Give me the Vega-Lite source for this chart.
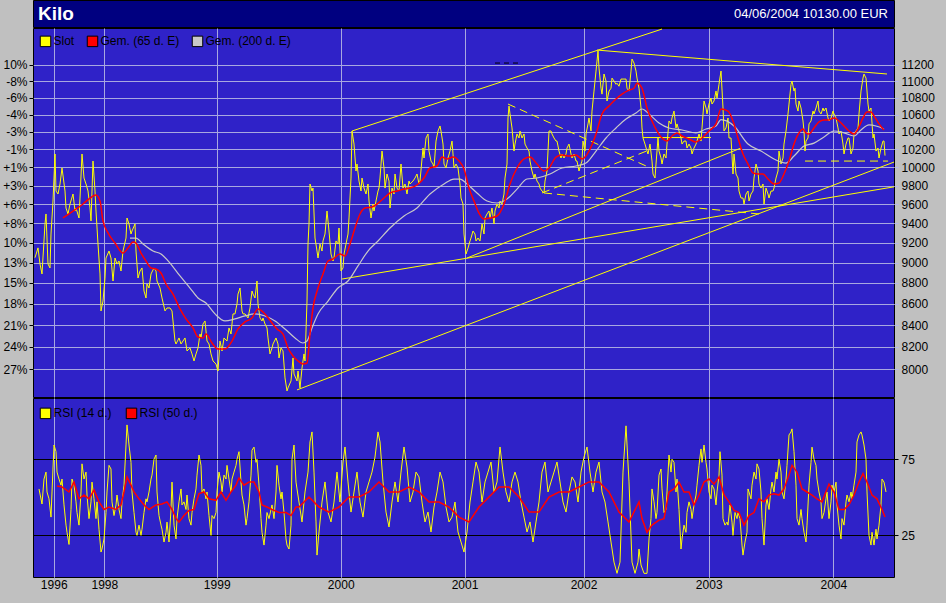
{
  "$schema": "https://vega.github.io/schema/vega-lite/v6.json",
  "background": "#c0c0c0",
  "padding": {"left": 2, "top": -1, "right": 13, "bottom": 13},
  "spacing": -2,
  "config": {
    "font": "Liberation Sans",
    "view": {"stroke": "black", "strokeWidth": 1, "fill": "#2f22c8"},
    "axis": {"labelFont": "Liberation Sans", "labelFontSize": 12, "labelColor": "black", "domain": false, "title": null},
    "legend": {"labelFont": "Liberation Sans", "labelFontSize": 12, "labelColor": "black"}
  },
  "datasets": {
    "price": [
      {"t":2,"p":9049},{"t":5,"p":9148},{"t":7,"p":8986},{"t":9,"p":8888},{"t":12,"p":9393},{"t":13,"p":9497},{"t":15,"p":8986},{"t":17,"p":8947},{"t":18,"p":9289},{"t":20,"p":9634},{"t":22,"p":10148},{"t":23,"p":9741},{"t":25,"p":9709},{"t":27,"p":9817},{"t":29,"p":9992},{"t":32,"p":9741},{"t":33,"p":9560},{"t":35,"p":9497},{"t":37,"p":9602},{"t":40,"p":9709},{"t":42,"p":9528},{"t":43,"p":9560},{"t":46,"p":9455},{"t":47,"p":9666},{"t":49,"p":10148},{"t":51,"p":9882},{"t":53,"p":9817},{"t":55,"p":9741},{"t":57,"p":9560},{"t":58,"p":9424},{"t":60,"p":10069},{"t":62,"p":9741},{"t":63,"p":9528},{"t":65,"p":9187},{"t":67,"p":8888},{"t":68,"p":8532},{"t":70,"p":8626},{"t":72,"p":8848},{"t":73,"p":9046},{"t":76,"p":9116},{"t":78,"p":9046},{"t":80,"p":8819},{"t":82,"p":9046},{"t":84,"p":8986},{"t":86,"p":9016},{"t":88,"p":8917},{"t":90,"p":9116},{"t":93,"p":9248},{"t":94,"p":9455},{"t":96,"p":9393},{"t":98,"p":9289},{"t":99,"p":9320},{"t":102,"p":9393},{"t":103,"p":9116},{"t":105,"p":8848},{"t":107,"p":8917},{"t":109,"p":8947},{"t":111,"p":8722},{"t":113,"p":8655},{"t":114,"p":8790},{"t":116,"p":8751},{"t":118,"p":8888},{"t":121,"p":8947},{"t":123,"p":8917},{"t":124,"p":8819},{"t":127,"p":8751},{"t":129,"p":8655},{"t":132,"p":8532},{"t":134,"p":8560},{"t":137,"p":8560},{"t":139,"p":8532},{"t":142,"p":8253},{"t":143,"p":8226},{"t":146,"p":8281},{"t":148,"p":8226},{"t":150,"p":8253},{"t":152,"p":8281},{"t":154,"p":8163},{"t":157,"p":8190},{"t":159,"p":8136},{"t":161,"p":8073},{"t":163,"p":8136},{"t":165,"p":8190},{"t":167,"p":8317},{"t":168,"p":8281},{"t":170,"p":8410},{"t":172,"p":8438},
      {"t":174,"p":8253},{"t":176,"p":8226},{"t":178,"p":8136},{"t":180,"p":8073},{"t":183,"p":8046},{"t":185,"p":7984},{"t":187,"p":8253},{"t":189,"p":8163},{"t":191,"p":8281},{"t":194,"p":8253},{"t":196,"p":8373},{"t":198,"p":8317},{"t":200,"p":8504},{"t":202,"p":8504},{"t":204,"p":8598},{"t":205,"p":8693},{"t":207,"p":8751},{"t":209,"p":8532},{"t":210,"p":8504},{"t":212,"p":8504},{"t":215,"p":8466},{"t":217,"p":8560},{"t":219,"p":8722},{"t":220,"p":8693},{"t":222,"p":8655},{"t":224,"p":8819},{"t":225,"p":8598},{"t":227,"p":8466},{"t":229,"p":8438},{"t":230,"p":8466},{"t":232,"p":8410},{"t":234,"p":8373},{"t":235,"p":8281},{"t":237,"p":8136},{"t":239,"p":8190},{"t":240,"p":8226},{"t":243,"p":8281},{"t":245,"p":8226},{"t":246,"p":8100},{"t":248,"p":8190},{"t":250,"p":8163},{"t":252,"p":7923},{"t":254,"p":7810},{"t":255,"p":7836},{"t":258,"p":7897},{"t":260,"p":8100},{"t":261,"p":7958},{"t":264,"p":7897},{"t":265,"p":7984},{"t":267,"p":7836},{"t":269,"p":8010},{"t":271,"p":8136},{"t":272,"p":8073},{"t":274,"p":8626},{"t":275,"p":9187},{"t":276,"p":9393},{"t":277,"p":9817},{"t":279,"p":9741},{"t":280,"p":9773},{"t":282,"p":9248},{"t":284,"p":9116},{"t":285,"p":9046},{"t":287,"p":9187},{"t":289,"p":9116},{"t":290,"p":9218},{"t":292,"p":9289},{"t":294,"p":9528},{"t":296,"p":9320},{"t":298,"p":9086},{"t":300,"p":9016},{"t":301,"p":9046},{"t":303,"p":9218},{"t":305,"p":9187},{"t":306,"p":9351},{"t":308,"p":8917},{"t":310,"p":8947},{"t":311,"p":9086},{"t":313,"p":9187},{"t":315,"p":9289},{"t":316,"p":9455},{"t":318,"p":9882},{"t":319,"p":10409},{"t":321,"p":10260},{"t":323,"p":9959},{"t":324,"p":10036},{"t":326,"p":9849},{"t":328,"p":9741},{"t":329,"p":9882},{"t":331,"p":9773},{"t":333,"p":9709},{"t":335,"p":9817},{"t":336,"p":9634},{"t":338,"p":9455},{"t":340,"p":9602},{"t":341,"p":9528},{"t":343,"p":9634},{"t":345,"p":9741},
      {"t":346,"p":9773},{"t":347,"p":9882},{"t":349,"p":10181},{"t":351,"p":9992},{"t":352,"p":9773},{"t":354,"p":9926},{"t":356,"p":9849},{"t":357,"p":9560},{"t":359,"p":9773},{"t":361,"p":9709},{"t":362,"p":9926},{"t":364,"p":9773},{"t":366,"p":9741},{"t":368,"p":10036},{"t":370,"p":9773},{"t":372,"p":9817},{"t":374,"p":9709},{"t":376,"p":9849},{"t":377,"p":9817},{"t":380,"p":9849},{"t":382,"p":9882},{"t":384,"p":9926},{"t":386,"p":9817},{"t":387,"p":9849},{"t":390,"p":10215},{"t":391,"p":10103},{"t":393,"p":10329},{"t":395,"p":10375},{"t":396,"p":10181},{"t":398,"p":10069},{"t":400,"p":10036},{"t":401,"p":9992},{"t":403,"p":10294},{"t":405,"p":10409},{"t":407,"p":10467},{"t":408,"p":10409},{"t":410,"p":10260},{"t":411,"p":10036},{"t":413,"p":9992},{"t":415,"p":10103},{"t":417,"p":10181},{"t":419,"p":10294},{"t":420,"p":10148},{"t":421,"p":9992},{"t":423,"p":10036},{"t":425,"p":9992},{"t":427,"p":9817},{"t":428,"p":9666},{"t":430,"p":9602},{"t":431,"p":9289},{"t":432,"p":9187},{"t":433,"p":9086},{"t":435,"p":9146},{"t":437,"p":9218},{"t":438,"p":9248},{"t":440,"p":9320},{"t":442,"p":9289},{"t":443,"p":9218},{"t":445,"p":9248},{"t":447,"p":9218},{"t":449,"p":9393},{"t":451,"p":9289},{"t":452,"p":9455},{"t":454,"p":9497},{"t":456,"p":9528},{"t":457,"p":9455},{"t":459,"p":9560},{"t":461,"p":9393},{"t":462,"p":9528},{"t":464,"p":9602},{"t":466,"p":9560},{"t":467,"p":9634},{"t":469,"p":9602},{"t":471,"p":9709},{"t":472,"p":9882},{"t":474,"p":10036},{"t":475,"p":10560},{"t":476,"p":10700},{"t":477,"p":10607},{"t":479,"p":10444},{"t":481,"p":10181},{"t":482,"p":10260},{"t":484,"p":10375},{"t":486,"p":10329},{"t":487,"p":10409},{"t":489,"p":10329},{"t":491,"p":10375},{"t":492,"p":10260},{"t":494,"p":10215},{"t":496,"p":10181},{"t":497,"p":10069},{"t":499,"p":9959},{"t":501,"p":9882},{"t":502,"p":9926},{"t":504,"p":9849},{"t":506,"p":9817},{"t":507,"p":9773},{"t":509,"p":9741},{"t":511,"p":9720},{"t":512,"p":9849},{"t":514,"p":9959},{"t":516,"p":10409},
      {"t":518,"p":10409},{"t":519,"p":10375},{"t":521,"p":10329},{"t":523,"p":10294},{"t":524,"p":10294},{"t":526,"p":10181},{"t":528,"p":10103},{"t":529,"p":10148},{"t":531,"p":10103},{"t":533,"p":10148},{"t":534,"p":10215},{"t":536,"p":10260},{"t":538,"p":10148},{"t":539,"p":10103},{"t":541,"p":10148},{"t":543,"p":10069},{"t":544,"p":10069},{"t":546,"p":9959},{"t":548,"p":10036},{"t":549,"p":10069},{"t":550,"p":10294},{"t":552,"p":10181},{"t":553,"p":10375},{"t":555,"p":10491},{"t":556,"p":10560},{"t":558,"p":10409},{"t":559,"p":10641},{"t":561,"p":10879},{"t":563,"p":11122},{"t":564,"p":11246},{"t":565,"p":11371},{"t":566,"p":11159},{"t":568,"p":10913},{"t":569,"p":10842},{"t":571,"p":11086},{"t":573,"p":11000},{"t":574,"p":10760},{"t":576,"p":10879},{"t":578,"p":10913},{"t":579,"p":11036},{"t":581,"p":11000},{"t":583,"p":10961},{"t":584,"p":10973},{"t":586,"p":10937},{"t":588,"p":11024},{"t":589,"p":11024},{"t":591,"p":11024},{"t":593,"p":11024},{"t":594,"p":10913},{"t":596,"p":10879},{"t":598,"p":11122},{"t":599,"p":11271},{"t":601,"p":11221},{"t":603,"p":11122},{"t":604,"p":11036},{"t":606,"p":10913},{"t":608,"p":10677},{"t":609,"p":10444},{"t":610,"p":10329},{"t":612,"p":10260},{"t":614,"p":10181},{"t":615,"p":10148},{"t":617,"p":10260},{"t":619,"p":10069},{"t":620,"p":9926},{"t":622,"p":9882},{"t":623,"p":10036},{"t":625,"p":10329},{"t":626,"p":10181},{"t":628,"p":10103},{"t":629,"p":10036},{"t":631,"p":10148},{"t":633,"p":10103},{"t":634,"p":10260},{"t":636,"p":10525},{"t":638,"p":10491},{"t":639,"p":10560},{"t":641,"p":10641},{"t":643,"p":10444},{"t":644,"p":10491},{"t":646,"p":10409},{"t":648,"p":10329},{"t":649,"p":10260},{"t":651,"p":10294},{"t":653,"p":10294},{"t":654,"p":10215},{"t":656,"p":10260},{"t":658,"p":10215},{"t":659,"p":10148},{"t":661,"p":10215},{"t":663,"p":10260},{"t":664,"p":10294},{"t":666,"p":10375},{"t":668,"p":10294},{"t":669,"p":10444},{"t":671,"p":10760},{"t":673,"p":10677},{"t":674,"p":10607},{"t":676,"p":10724},{"t":678,"p":10794},{"t":679,"p":10724},{"t":681,"p":10760},{"t":683,"p":10879},{"t":684,"p":10794},{"t":686,"p":10961},{"t":688,"p":11122},
      {"t":690,"p":10677},{"t":691,"p":10409},{"t":693,"p":10444},{"t":695,"p":10560},{"t":696,"p":10329},{"t":698,"p":10329},{"t":700,"p":9926},{"t":701,"p":10148},{"t":703,"p":9926},{"t":705,"p":9882},{"t":706,"p":9741},{"t":708,"p":9666},{"t":710,"p":9666},{"t":711,"p":9602},{"t":713,"p":9709},{"t":715,"p":9741},{"t":716,"p":9634},{"t":718,"p":9709},{"t":720,"p":9741},{"t":721,"p":9882},{"t":723,"p":10036},{"t":725,"p":9959},{"t":726,"p":9817},{"t":728,"p":9773},{"t":730,"p":9817},{"t":731,"p":9602},{"t":733,"p":9773},{"t":735,"p":9709},{"t":736,"p":9666},{"t":738,"p":9741},{"t":740,"p":9741},{"t":741,"p":9773},{"t":743,"p":9882},{"t":745,"p":9959},{"t":746,"p":10181},{"t":748,"p":10036},{"t":750,"p":10103},{"t":751,"p":10260},{"t":753,"p":10409},{"t":755,"p":10607},{"t":756,"p":10724},{"t":758,"p":10961},{"t":759,"p":11000},{"t":761,"p":10879},{"t":762,"p":10913},{"t":763,"p":10724},{"t":765,"p":10641},{"t":766,"p":10760},{"t":768,"p":10677},{"t":770,"p":10525},{"t":771,"p":10409},{"t":772,"p":10181},{"t":773,"p":10294},{"t":775,"p":10329},{"t":776,"p":10491},{"t":778,"p":10525},{"t":780,"p":10641},{"t":781,"p":10607},{"t":783,"p":10677},{"t":785,"p":10760},{"t":786,"p":10641},{"t":788,"p":10607},{"t":790,"p":10677},{"t":791,"p":10641},{"t":793,"p":10677},{"t":795,"p":10560},{"t":796,"p":10525},{"t":798,"p":10560},{"t":800,"p":10641},{"t":801,"p":10607},{"t":803,"p":10560},{"t":805,"p":10444},{"t":806,"p":10375},{"t":808,"p":10409},{"t":810,"p":10260},{"t":811,"p":10148},{"t":813,"p":10260},{"t":815,"p":10329},{"t":816,"p":10329},{"t":818,"p":10148},{"t":820,"p":10215},{"t":821,"p":10375},{"t":823,"p":10409},{"t":825,"p":10444},{"t":826,"p":10607},{"t":828,"p":10879},{"t":830,"p":11036},{"t":831,"p":11086},{"t":833,"p":11036},{"t":835,"p":10724},{"t":836,"p":10641},{"t":838,"p":10677},{"t":840,"p":10329},{"t":841,"p":10375},{"t":843,"p":10181},{"t":845,"p":10215},{"t":846,"p":10103},{"t":848,"p":10215},{"t":850,"p":10294},{"t":851,"p":10294},{"t":852,"p":10130}
    ],
    "ma65": [
      {"t":30,"p":9455},{"t":37,"p":9507},{"t":43,"p":9549},{"t":50,"p":9602},{"t":57,"p":9666},{"t":63,"p":9698},{"t":67,"p":9634},{"t":70,"p":9424},{"t":75,"p":9300},{"t":82,"p":9197},{"t":90,"p":9096},{"t":95,"p":9146},{"t":100,"p":9207},{"t":103,"p":9197},{"t":108,"p":9096},{"t":113,"p":9016},{"t":118,"p":8947},{"t":123,"p":8937},{"t":128,"p":8897},{"t":133,"p":8790},{"t":140,"p":8693},{"t":147,"p":8551},{"t":153,"p":8457},{"t":160,"p":8373},{"t":165,"p":8290},{"t":170,"p":8281},{"t":173,"p":8317},{"t":179,"p":8235},{"t":185,"p":8181},{"t":192,"p":8181},{"t":199,"p":8253},{"t":205,"p":8364},{"t":212,"p":8429},{"t":219,"p":8466},{"t":225,"p":8551},{"t":232,"p":8504},{"t":239,"p":8419},{"t":244,"p":8364},{"t":250,"p":8317},{"t":255,"p":8190},{"t":260,"p":8118},{"t":265,"p":8073},{"t":270,"p":8046},{"t":274,"p":8055},{"t":277,"p":8317},{"t":280,"p":8560},{"t":285,"p":8751},{"t":290,"p":8888},{"t":295,"p":9016},{"t":300,"p":9036},{"t":307,"p":9086},{"t":312,"p":9066},{"t":317,"p":9187},{"t":322,"p":9351},{"t":327,"p":9497},{"t":332,"p":9560},{"t":339,"p":9570},{"t":344,"p":9602},{"t":351,"p":9666},{"t":357,"p":9720},{"t":364,"p":9741},{"t":371,"p":9762},{"t":377,"p":9773},{"t":384,"p":9806},{"t":391,"p":9882},{"t":397,"p":9992},{"t":404,"p":10014},{"t":409,"p":10114},{"t":414,"p":10092},{"t":420,"p":10114},{"t":426,"p":10069},{"t":431,"p":9981},{"t":436,"p":9773},{"t":441,"p":9634},{"t":446,"p":9507},{"t":451,"p":9444},{"t":457,"p":9455},{"t":464,"p":9476},{"t":471,"p":9602},{"t":477,"p":9817},{"t":484,"p":9992},{"t":491,"p":10092},{"t":497,"p":10114},{"t":504,"p":10036},{"t":511,"p":9959},{"t":516,"p":9992},{"t":523,"p":10114},{"t":529,"p":10137},{"t":536,"p":10125},{"t":543,"p":10137},{"t":549,"p":10092},{"t":556,"p":10181},{"t":563,"p":10375},{"t":569,"p":10607},{"t":576,"p":10700},{"t":583,"p":10783},{"t":589,"p":10842},{"t":596,"p":10890},{"t":601,"p":10913},{"t":604,"p":10973},{"t":609,"p":10913},{"t":614,"p":10677},{"t":619,"p":10525},{"t":624,"p":10409},{"t":629,"p":10329},{"t":634,"p":10294},{"t":639,"p":10352},{"t":644,"p":10387},{"t":649,"p":10352},{"t":656,"p":10317},{"t":663,"p":10283},{"t":669,"p":10329},{"t":676,"p":10409},{"t":683,"p":10491},{"t":688,"p":10665},{"t":695,"p":10641},{"t":700,"p":10525},{"t":705,"p":10329},{"t":710,"p":10148},{"t":715,"p":10036},{"t":720,"p":9937},{"t":725,"p":9926},{"t":730,"p":9926},{"t":735,"p":9871},{"t":741,"p":9817},{"t":746,"p":9828},{"t":751,"p":9926},{"t":756,"p":10069},{"t":761,"p":10260},{"t":766,"p":10387},{"t":770,"p":10432},{"t":773,"p":10387},{"t":776,"p":10375},{"t":781,"p":10444},{"t":786,"p":10514},{"t":791,"p":10537},{"t":796,"p":10537},{"t":801,"p":10560},{"t":806,"p":10525},{"t":811,"p":10467},{"t":816,"p":10409},{"t":821,"p":10375},{"t":825,"p":10432},{"t":830,"p":10560},{"t":834,"p":10630},{"t":838,"p":10630},{"t":841,"p":10584},{"t":846,"p":10491},{"t":851,"p":10421}
    ],
    "ma200": [
      {"t":97,"p":9248},{"t":103,"p":9248},{"t":110,"p":9187},{"t":120,"p":9116},{"t":128,"p":9086},{"t":137,"p":8996},{"t":147,"p":8868},{"t":157,"p":8751},{"t":165,"p":8655},{"t":173,"p":8607},{"t":182,"p":8504},{"t":192,"p":8438},{"t":202,"p":8457},{"t":212,"p":8485},{"t":222,"p":8504},{"t":232,"p":8485},{"t":242,"p":8438},{"t":252,"p":8364},{"t":262,"p":8281},{"t":270,"p":8235},{"t":274,"p":8253},{"t":279,"p":8373},{"t":285,"p":8504},{"t":295,"p":8626},{"t":305,"p":8751},{"t":315,"p":8819},{"t":325,"p":8967},{"t":335,"p":9116},{"t":345,"p":9218},{"t":357,"p":9351},{"t":371,"p":9476},{"t":384,"p":9560},{"t":397,"p":9709},{"t":411,"p":9817},{"t":421,"p":9871},{"t":427,"p":9871},{"t":434,"p":9817},{"t":444,"p":9720},{"t":454,"p":9634},{"t":464,"p":9613},{"t":474,"p":9655},{"t":484,"p":9762},{"t":494,"p":9871},{"t":504,"p":9882},{"t":517,"p":9926},{"t":529,"p":9992},{"t":543,"p":10014},{"t":553,"p":10047},{"t":563,"p":10181},{"t":573,"p":10329},{"t":583,"p":10444},{"t":593,"p":10549},{"t":603,"p":10618},{"t":609,"p":10665},{"t":616,"p":10607},{"t":626,"p":10502},{"t":636,"p":10444},{"t":649,"p":10421},{"t":663,"p":10387},{"t":673,"p":10432},{"t":683,"p":10467},{"t":688,"p":10540},{"t":701,"p":10467},{"t":715,"p":10260},{"t":728,"p":10181},{"t":741,"p":10092},{"t":753,"p":10047},{"t":761,"p":10125},{"t":771,"p":10237},{"t":781,"p":10271},{"t":791,"p":10341},{"t":801,"p":10409},{"t":811,"p":10387},{"t":821,"p":10352},{"t":828,"p":10421},{"t":836,"p":10479},{"t":843,"p":10467},{"t":851,"p":10432}
    ],
    "trends": [
      {"t":309,"p":8838,"t2":861,"p2":9786},
      {"t":264,"p":7819,"t2":861,"p2":10058},
      {"t":434,"p":9046,"t2":708,"p2":10215},
      {"t":319,"p":10409,"t2":629,"p2":11650},
      {"t":564,"p":11383,"t2":854,"p2":11086},
      {"t":610,"p":10334,"t2":678,"p2":10334}
    ],
    "dtrends": [
      {"t":475,"p":10724,"t2":616,"p2":10000},
      {"t":509,"p":9720,"t2":616,"p2":10192},
      {"t":511,"p":9720,"t2":726,"p2":9497},
      {"t":772,"p":10069,"t2":855,"p2":10069}
    ],
    "btrends": [
      {"t":462,"p":11221,"t2":489,"p2":11221}
    ],
    "rsi14": [
      {"t":6,"r":55.5},{"t":9,"r":45.6},{"t":11,"r":62},{"t":13,"r":66.6},{"t":14,"r":53.5},{"t":16,"r":49},{"t":18,"r":37},{"t":19,"r":53.5},{"t":21,"r":84.4},{"t":23,"r":80},{"t":24,"r":66.6},{"t":26,"r":62},{"t":28,"r":58},{"t":29,"r":62},{"t":31,"r":45},{"t":33,"r":31.7},{"t":34,"r":27},{"t":36,"r":19},{"t":38,"r":42},{"t":39,"r":62},{"t":41,"r":58},{"t":43,"r":47},{"t":44,"r":40},{"t":46,"r":31.7},{"t":48,"r":53.5},{"t":49,"r":72},{"t":51,"r":62},{"t":53,"r":66.6},{"t":54,"r":51.5},{"t":56,"r":36},{"t":58,"r":47},{"t":59,"r":60},{"t":61,"r":49},{"t":63,"r":36},{"t":64,"r":47},{"t":66,"r":29},{"t":68,"r":14},{"t":69,"r":16},{"t":71,"r":22.6},{"t":73,"r":40},{"t":74,"r":53.5},{"t":76,"r":71},{"t":78,"r":68.6},{"t":79,"r":47},{"t":81,"r":38},{"t":83,"r":45},{"t":84,"r":51.5},{"t":86,"r":42},{"t":88,"r":36},{"t":89,"r":47},{"t":91,"r":58},{"t":93,"r":84.4},{"t":94,"r":97.6},{"t":96,"r":84.4},{"t":98,"r":73},{"t":99,"r":53.5},{"t":101,"r":40},{"t":103,"r":27},{"t":104,"r":25},{"t":106,"r":31.7},{"t":108,"r":25},{"t":109,"r":29},{"t":111,"r":40},{"t":113,"r":49},{"t":114,"r":47},{"t":116,"r":53.5},{"t":118,"r":62},{"t":119,"r":64.6},{"t":121,"r":75},{"t":123,"r":77.8},{"t":124,"r":53.5},{"t":126,"r":38},{"t":128,"r":31.7},{"t":129,"r":29},{"t":131,"r":20.6},{"t":133,"r":27},{"t":134,"r":33.7},{"t":136,"r":20.6},{"t":138,"r":42},{"t":139,"r":60},{"t":141,"r":31.7},{"t":143,"r":22.6},{"t":144,"r":36},{"t":146,"r":47},{"t":148,"r":55.5},{"t":149,"r":45},{"t":151,"r":47},{"t":153,"r":42},{"t":154,"r":51.5},{"t":156,"r":36},{"t":158,"r":31.7},{"t":159,"r":40},{"t":161,"r":49},{"t":163,"r":55.5},{"t":164,"r":64.6},{"t":166,"r":77.8},{"t":168,"r":71},{"t":169,"r":53.5},{"t":171,"r":55.5},{"t":173,"r":49},{"t":174,"r":53.5},{"t":176,"r":38},{"t":178,"r":25},{"t":179,"r":38},{"t":181,"r":36},{"t":183,"r":40},{"t":184,"r":53.5},{"t":186,"r":66.6},{"t":188,"r":60},{"t":189,"r":53.5},{"t":191,"r":64.6},{"t":193,"r":62},{"t":194,"r":71},{"t":196,"r":62},{"t":198,"r":53.5},{"t":199,"r":62},{"t":201,"r":66.6},{"t":203,"r":71},{"t":204,"r":75},{"t":206,"r":80},{"t":208,"r":60},{"t":209,"r":51.5},{"t":211,"r":45},{"t":213,"r":31.7},{"t":214,"r":36},{"t":216,"r":47},{"t":218,"r":64.6},{"t":219,"r":81},{"t":221,"r":83},{"t":223,"r":73},{"t":224,"r":75},{"t":226,"r":58},{"t":228,"r":36},{"t":229,"r":27},{"t":231,"r":18.6},{"t":233,"r":31.7},{"t":234,"r":40},{"t":236,"r":36},{"t":238,"r":42},{"t":239,"r":45},{"t":241,"r":36},{"t":243,"r":53.5},{"t":244,"r":71},{"t":246,"r":58},{"t":248,"r":49},{"t":249,"r":53.5},{"t":251,"r":40},{"t":253,"r":22.6},{"t":254,"r":18.6},{"t":256,"r":16},{"t":258,"r":31.7},{"t":259,"r":75},{"t":261,"r":84.4},{"t":263,"r":60},{"t":264,"r":55.5},
      {"t":266,"r":46.9},{"t":269,"r":33.8},{"t":272,"r":53.5},{"t":275,"r":66.6},{"t":277,"r":86.4},{"t":279,"r":93},{"t":281,"r":66.6},{"t":283,"r":33.8},{"t":284,"r":12},{"t":286,"r":27.2},{"t":289,"r":46.9},{"t":292,"r":60.1},{"t":295,"r":40.3},{"t":298,"r":33.8},{"t":301,"r":46.9},{"t":304,"r":66.6},{"t":307,"r":46.9},{"t":310,"r":73.2},{"t":312,"r":83.1},{"t":315,"r":60.1},{"t":318,"r":40.3},{"t":321,"r":53.5},{"t":324,"r":66.6},{"t":327,"r":46.9},{"t":330,"r":37},{"t":333,"r":53.5},{"t":336,"r":60.1},{"t":339,"r":66.6},{"t":342,"r":76.5},{"t":345,"r":93},{"t":347,"r":86.4},{"t":350,"r":60.1},{"t":353,"r":40.3},{"t":356,"r":30.5},{"t":359,"r":46.9},{"t":362,"r":60.1},{"t":365,"r":46.9},{"t":368,"r":66.6},{"t":371,"r":83.1},{"t":374,"r":69.9},{"t":377,"r":46.9},{"t":380,"r":53.5},{"t":383,"r":66.6},{"t":386,"r":63.4},{"t":389,"r":46.9},{"t":392,"r":33.8},{"t":395,"r":40.3},{"t":398,"r":27.2},{"t":401,"r":43.6},{"t":404,"r":53.5},{"t":407,"r":66.6},{"t":410,"r":60.1},{"t":413,"r":43.6},{"t":416,"r":33.8},{"t":419,"r":37},{"t":422,"r":46.9},{"t":425,"r":27.2},{"t":428,"r":20.6},{"t":431,"r":14},{"t":434,"r":27.2},{"t":437,"r":46.9},{"t":440,"r":60.1},{"t":443,"r":73.2},{"t":446,"r":66.6},{"t":449,"r":46.9},{"t":452,"r":60.1},{"t":455,"r":66.6},{"t":458,"r":73.2},{"t":461,"r":53.5},{"t":464,"r":60.1},{"t":467,"r":83.1},{"t":470,"r":66.6},{"t":473,"r":53.5},{"t":476,"r":46.9},{"t":479,"r":60.1},{"t":482,"r":66.6},{"t":485,"r":60.1},{"t":488,"r":46.9},{"t":491,"r":37},{"t":494,"r":27.2},{"t":497,"r":33.8},{"t":500,"r":20.6},{"t":503,"r":33.8},{"t":506,"r":46.9},{"t":509,"r":66.6},{"t":512,"r":73.2},{"t":515,"r":53.5},{"t":518,"r":60.1},{"t":521,"r":66.6},{"t":524,"r":73.2},{"t":527,"r":60.1},{"t":530,"r":46.9},{"t":533,"r":40.3},{"t":536,"r":53.5},{"t":539,"r":63.4},{"t":542,"r":60.1},{"t":545,"r":46.9},{"t":548,"r":66.6},{"t":551,"r":76.5},{"t":554,"r":83.1},{"t":557,"r":66.6},{"t":560,"r":53.5},{"t":563,"r":66.6},{"t":566,"r":73.2},{"t":569,"r":53.5},{"t":572,"r":46.9},{"t":575,"r":33.8},{"t":578,"r":20.6},{"t":581,"r":7.4},{"t":584,"r":0},{"t":587,"r":7.4},{"t":590,"r":66.6},{"t":593,"r":97},{"t":596,"r":60.1},{"t":599,"r":7.4},{"t":602,"r":0},{"t":605,"r":7.4},
      {"t":606,"r":16},{"t":608,"r":5.5},{"t":611,"r":0},{"t":614,"r":0},{"t":616,"r":22.6},{"t":618,"r":36},{"t":619,"r":55.5},{"t":621,"r":47},{"t":623,"r":36},{"t":624,"r":40},{"t":626,"r":64.6},{"t":628,"r":68.6},{"t":629,"r":55.5},{"t":631,"r":40},{"t":633,"r":42},{"t":634,"r":53.5},{"t":636,"r":77.8},{"t":638,"r":66.6},{"t":639,"r":75},{"t":641,"r":73},{"t":643,"r":53.5},{"t":644,"r":62},{"t":646,"r":42},{"t":648,"r":16},{"t":649,"r":22.6},{"t":651,"r":31.7},{"t":653,"r":27},{"t":654,"r":40},{"t":656,"r":47},{"t":658,"r":42},{"t":659,"r":36},{"t":661,"r":45},{"t":663,"r":51.5},{"t":664,"r":58},{"t":666,"r":71},{"t":668,"r":81.8},{"t":669,"r":73},{"t":671,"r":84.4},{"t":673,"r":73},{"t":674,"r":68.6},{"t":676,"r":53.5},{"t":678,"r":49},{"t":679,"r":58},{"t":681,"r":55.5},{"t":683,"r":45},{"t":684,"r":53.5},{"t":686,"r":64.6},{"t":687,"r":80},{"t":689,"r":64.6},{"t":690,"r":36},{"t":692,"r":31.7},{"t":694,"r":33.7},{"t":695,"r":31.7},{"t":697,"r":45},{"t":699,"r":33.7},{"t":700,"r":25},{"t":702,"r":40},{"t":704,"r":36},{"t":705,"r":40},{"t":707,"r":36},{"t":709,"r":18.6},{"t":710,"r":12},{"t":712,"r":20.6},{"t":714,"r":27},{"t":715,"r":55.5},{"t":716,"r":53.5},{"t":718,"r":49},{"t":719,"r":58},{"t":721,"r":66.6},{"t":723,"r":62},{"t":724,"r":72},{"t":726,"r":68.6},{"t":728,"r":53.5},{"t":729,"r":36},{"t":731,"r":18.6},{"t":733,"r":45},{"t":734,"r":49},{"t":736,"r":42},{"t":738,"r":55.5},{"t":739,"r":60},{"t":741,"r":53.5},{"t":743,"r":66.6},{"t":744,"r":62},{"t":746,"r":75},{"t":748,"r":66.6},{"t":749,"r":53.5},{"t":751,"r":49},{"t":753,"r":62},{"t":754,"r":71},{"t":756,"r":91},{"t":758,"r":93},{"t":759,"r":95},{"t":761,"r":80},{"t":763,"r":58},{"t":764,"r":36},{"t":766,"r":31.7},{"t":768,"r":42},{"t":769,"r":36},{"t":771,"r":27},{"t":773,"r":20.6},{"t":774,"r":31.7},{"t":776,"r":58},{"t":778,"r":73},{"t":779,"r":83},{"t":781,"r":75},{"t":783,"r":71},{"t":784,"r":62},{"t":786,"r":53.5},{"t":788,"r":47},{"t":789,"r":36},{"t":791,"r":40},{"t":793,"r":49},{"t":794,"r":53.5},{"t":796,"r":36},{"t":798,"r":47},{"t":799,"r":58},{"t":801,"r":53.5},{"t":803,"r":60},{"t":804,"r":45},{"t":806,"r":31.7},{"t":808,"r":22.6},{"t":809,"r":36},{"t":811,"r":31.7},{"t":813,"r":47},{"t":814,"r":51.5},{"t":816,"r":47},{"t":818,"r":53.5},{"t":819,"r":49},{"t":821,"r":58},{"t":823,"r":66.6},{"t":824,"r":86.4},{"t":826,"r":91},{"t":828,"r":93},{"t":829,"r":91},{"t":831,"r":84.4},{"t":833,"r":75},{"t":834,"r":53.5},{"t":836,"r":25},{"t":838,"r":18.6},{"t":839,"r":27},{"t":841,"r":18.6},{"t":843,"r":29},{"t":844,"r":22.6},{"t":846,"r":31.7},{"t":848,"r":45},{"t":849,"r":62},{"t":851,"r":60},{"t":853,"r":53.5}
    ],
    "rsi50": [
      {"t":24,"r":57.4},{"t":29,"r":56.8},{"t":36,"r":53.5},{"t":41,"r":60},{"t":46,"r":49},{"t":51,"r":51.5},{"t":56,"r":49},{"t":61,"r":54.8},{"t":66,"r":47},{"t":71,"r":42},{"t":76,"r":43.6},{"t":83,"r":42},{"t":88,"r":45},{"t":91,"r":53.5},{"t":94,"r":63.4},{"t":98,"r":58},{"t":101,"r":53.5},{"t":106,"r":49},{"t":111,"r":45},{"t":116,"r":42},{"t":123,"r":45},{"t":129,"r":45.6},{"t":134,"r":47},{"t":139,"r":42},{"t":143,"r":36},{"t":146,"r":33.7},{"t":151,"r":38},{"t":156,"r":41.4},{"t":161,"r":42},{"t":166,"r":52.4},{"t":171,"r":53.5},{"t":176,"r":49},{"t":183,"r":48},{"t":188,"r":53.5},{"t":193,"r":48},{"t":198,"r":53.5},{"t":203,"r":58},{"t":206,"r":62.7},{"t":211,"r":58},{"t":216,"r":60},{"t":221,"r":60},{"t":226,"r":53.5},{"t":229,"r":45},{"t":234,"r":43.6},{"t":239,"r":42},{"t":246,"r":40},{"t":253,"r":40},{"t":258,"r":38},{"t":263,"r":43.6},
      {"t":266,"r":43.6},{"t":276,"r":50.2},{"t":286,"r":43.6},{"t":296,"r":40.3},{"t":306,"r":43.6},{"t":316,"r":50.2},{"t":326,"r":50.2},{"t":336,"r":53.5},{"t":346,"r":60.1},{"t":356,"r":53.5},{"t":366,"r":53.5},{"t":376,"r":56.8},{"t":386,"r":53.5},{"t":396,"r":46.9},{"t":406,"r":46.9},{"t":416,"r":43.6},{"t":426,"r":37},{"t":436,"r":33.8},{"t":446,"r":43.6},{"t":456,"r":50.2},{"t":466,"r":56.8},{"t":476,"r":56.8},{"t":486,"r":50.2},{"t":496,"r":40.3},{"t":506,"r":40.3},{"t":516,"r":50.2},{"t":526,"r":53.5},{"t":536,"r":53.5},{"t":546,"r":56.8},{"t":556,"r":60.1},{"t":566,"r":60.1},{"t":576,"r":53.5},{"t":586,"r":40.3},{"t":596,"r":33.8},
      {"t":606,"r":47},{"t":609,"r":36},{"t":614,"r":27},{"t":619,"r":31.7},{"t":626,"r":35},{"t":631,"r":36},{"t":636,"r":53.5},{"t":641,"r":55.5},{"t":646,"r":60},{"t":651,"r":53.5},{"t":656,"r":53.5},{"t":661,"r":45},{"t":666,"r":51.5},{"t":671,"r":60},{"t":676,"r":62},{"t":681,"r":58.7},{"t":686,"r":63.4},{"t":691,"r":51.5},{"t":696,"r":47},{"t":701,"r":41.4},{"t":706,"r":40},{"t":711,"r":31.7},{"t":716,"r":38},{"t":721,"r":40},{"t":726,"r":49},{"t":731,"r":47},{"t":736,"r":51.5},{"t":741,"r":52.4},{"t":746,"r":51.5},{"t":751,"r":55.5},{"t":756,"r":64.6},{"t":759,"r":71},{"t":764,"r":66.6},{"t":769,"r":55.5},{"t":774,"r":53.5},{"t":779,"r":51.5},{"t":784,"r":49},{"t":789,"r":47},{"t":796,"r":58.7},{"t":801,"r":53.5},{"t":806,"r":42},{"t":811,"r":42},{"t":816,"r":45},{"t":821,"r":51.5},{"t":826,"r":60},{"t":830,"r":65.6},{"t":834,"r":60},{"t":839,"r":51.5},{"t":844,"r":49},{"t":849,"r":42},{"t":852,"r":37}
    ],
    "banner": [
      {"t":0,"label":"Kilo"},
      {"t":861,"label":"04/06/2004 10130.00 EUR"}
    ]
  },
  "vconcat": [
    {
      "width": 861,
      "height": 27,
      "view": {"fill": "#000080", "stroke": "black"},
      "data": {"name": "banner"},
      "layer": [
        {
          "transform": [{"filter": "datum.t == 0"}],
          "mark": {"type": "text", "align": "left", "baseline": "middle", "dx": 5, "font": "Liberation Sans", "fontSize": 19, "fontWeight": "bold", "color": "white"},
          "encoding": {
            "x": {"field": "t", "type": "quantitative", "scale": {"domain": [0, 861], "nice": false, "zero": false}, "axis": null},
            "text": {"field": "label"}
          }
        },
        {
          "transform": [{"filter": "datum.t == 861"}],
          "mark": {"type": "text", "align": "right", "baseline": "middle", "dx": -6, "font": "Liberation Sans", "fontSize": 13, "color": "white"},
          "encoding": {
            "x": {"field": "t", "type": "quantitative", "scale": {"domain": [0, 861], "nice": false, "zero": false}, "axis": null},
            "text": {"field": "label"}
          }
        }
      ]
    },
    {
      "width": 861,
      "height": 369,
      "encoding": {
        "x": {"field": "t", "type": "quantitative", "scale": {"domain": [0, 861], "nice": false, "zero": false},
              "axis": {"values": [20.7, 71.3, 183.7, 307.7, 431.5, 550.5, 675.7, 800.3], "labels": false, "ticks": false, "grid": true, "gridColor": "#a8a8e0", "gridOpacity": 1, "gridWidth": 1}}
      },
      "layer": [
        {
          "data": {"name": "price"},
          "mark": {"type": "line", "color": "#ffff00", "strokeWidth": 1, "interpolate": "linear"},
          "encoding": {
            "y": {"field": "p", "type": "quantitative", "scale": {"type": "log", "domain": [7758, 11664], "nice": false, "zero": false},
                  "axis": {"orient": "left", "values": [8000,8200,8400,8600,8800,9000,9200,9400,9600,9800,10000,10200,10400,10600,10800,11000,11200],
                           "labelExpr": "['27%','24%','21%','18%','15%','13%','10%','+8%','+6%','+3%','+1%','-1%','-3%','-4%','-6%','-8%','10%'][indexof([8000,8200,8400,8600,8800,9000,9200,9400,9600,9800,10000,10200,10400,10600,10800,11000,11200], datum.value)]",
                           "tickColor": "black", "tickSize": 4, "labelPadding": 2, "grid": true, "gridColor": "#a8a8e0", "gridOpacity": 1}}
          }
        },
        {
          "data": {"name": "trends"},
          "mark": {"type": "rule", "color": "#ffff00", "strokeWidth": 1, "clip": true},
          "encoding": {
            "y": {"field": "p", "type": "quantitative", "axis": null},
            "x2": {"field": "t2"},
            "y2": {"field": "p2"}
          }
        },
        {
          "data": {"name": "dtrends"},
          "mark": {"type": "rule", "color": "#ffff00", "strokeWidth": 1, "strokeDash": [8, 5], "clip": true},
          "encoding": {
            "y": {"field": "p", "type": "quantitative", "axis": null},
            "x2": {"field": "t2"},
            "y2": {"field": "p2"}
          }
        },
        {
          "data": {"name": "btrends"},
          "mark": {"type": "rule", "color": "black", "strokeWidth": 1, "strokeDash": [5, 4], "clip": true},
          "encoding": {
            "y": {"field": "p", "type": "quantitative", "axis": null},
            "x2": {"field": "t2"},
            "y2": {"field": "p2"}
          }
        },
        {
          "data": {"name": "ma200"},
          "mark": {"type": "line", "color": "#c8c8c8", "strokeWidth": 1.2, "interpolate": "monotone"},
          "encoding": {
            "y": {"field": "p", "type": "quantitative", "axis": null}
          }
        },
        {
          "data": {"name": "ma65"},
          "mark": {"type": "line", "color": "#ff0000", "strokeWidth": 1.5, "interpolate": "monotone"},
          "encoding": {
            "y": {"field": "p", "type": "quantitative",
                  "axis": {"orient": "right", "values": [8000,8200,8400,8600,8800,9000,9200,9400,9600,9800,10000,10200,10400,10600,10800,11000,11200], "format": "d",
                           "tickColor": "#b8b8ec", "tickSize": 4, "labelPadding": 3, "grid": false}}
          }
        },
        {
          "data": {"values": []},
          "mark": {"type": "square", "stroke": "black", "strokeWidth": 1, "opacity": 1},
          "encoding": {
            "y": {"field": "p", "type": "quantitative", "axis": null},
            "fill": {"field": "s", "type": "nominal",
                     "scale": {"domain": ["Slot", "Gem. (65 d. E)", "Gem. (200 d. E)"], "range": ["#ffff00", "#ff0000", "#c8c8c8"]},
                     "legend": {"orient": "none", "legendX": 6.5, "legendY": 7, "direction": "horizontal", "title": null, "padding": 0,
                                "symbolType": "square", "symbolSize": 110, "symbolStrokeColor": "black", "symbolStrokeWidth": 1,
                                "labelOffset": 2, "columnPadding": 10, "labelFontSize": 12, "labelColor": "black"}}
          }
        }
      ],
      "resolve": {"axis": {"y": "independent"}}
    },
    {
      "width": 861,
      "height": 179,
      "encoding": {
        "x": {"field": "t", "type": "quantitative", "scale": {"domain": [0, 861], "nice": false, "zero": false},
              "axis": {"values": [20.7, 71.3, 183.7, 307.7, 431.5, 550.5, 675.7, 800.3],
                       "labelExpr": "datum.value < 40 ? '1996' : datum.value < 100 ? '1998' : datum.value < 250 ? '1999' : datum.value < 370 ? '2000' : datum.value < 490 ? '2001' : datum.value < 610 ? '2002' : datum.value < 740 ? '2003' : '2004'",
                       "grid": true, "gridColor": "#a8a8e0", "gridOpacity": 1, "tickColor": "#a8a8e0", "tickSize": 3, "labelPadding": -1}}
      },
      "layer": [
        {
          "data": {"name": "rsi14"},
          "mark": {"type": "line", "color": "#ffff00", "strokeWidth": 1},
          "encoding": {
            "y": {"field": "r", "type": "quantitative", "scale": {"domain": [-2.4, 115.3], "nice": false, "zero": false},
                  "axis": {"orient": "right", "values": [25, 75], "grid": true, "gridColor": "black", "gridOpacity": 1, "tickColor": "black", "tickSize": 4, "labelPadding": 3}}
          }
        },
        {
          "data": {"name": "rsi50"},
          "mark": {"type": "line", "color": "#ff0000", "strokeWidth": 1.5},
          "encoding": {
            "y": {"field": "r", "type": "quantitative"}
          }
        },
        {
          "data": {"values": []},
          "mark": {"type": "square", "stroke": "black", "strokeWidth": 1, "opacity": 1},
          "encoding": {
            "y": {"field": "r", "type": "quantitative"},
            "fill": {"field": "s", "type": "nominal",
                     "scale": {"domain": ["RSI (14 d.)", "RSI (50 d.)"], "range": ["#ffff00", "#ff0000"]},
                     "legend": {"orient": "none", "legendX": 6.5, "legendY": 9, "direction": "horizontal", "title": null, "padding": 0,
                                "symbolType": "square", "symbolSize": 110, "symbolStrokeColor": "black", "symbolStrokeWidth": 1,
                                "labelOffset": 2, "columnPadding": 11, "labelFontSize": 12, "labelColor": "black"}}
          }
        }
      ]
    }
  ],
  "resolve": {"scale": {"fill": "independent"}, "legend": {"fill": "independent"}}
}
